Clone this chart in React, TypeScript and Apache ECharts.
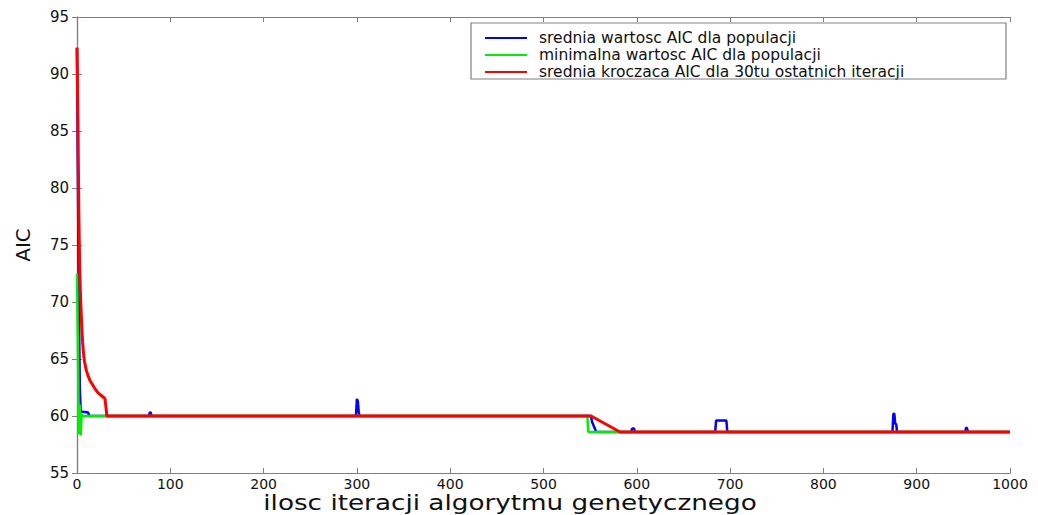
import React, { useEffect, useRef } from "react";
import * as echarts from "echarts";

// Tick labels
const xTicks = [0, 100, 200, 300, 400, 500, 600, 700, 800, 900, 1000];
const yTicks = [55, 60, 65, 70, 75, 80, 85, 90, 95];

// Series names
const seriesNames = [
  "srednia wartosc AIC dla populacji",
  "minimalna wartosc AIC dla populacji",
  "srednia kroczaca AIC dla 30tu ostatnich iteracji",
];

// Mean AIC of population (iteration, value)
const meanIter = [0, 1, 2, 3, 4, 12, 13, 77, 78, 79, 80, 299, 300, 301, 302, 303, 551, 552, 556, 557, 594, 595, 597, 598, 684, 685, 696, 697, 874, 875, 876, 877, 878, 879, 952, 953, 954, 955, 1000];
const meanVal = [92.3, 80, 70, 62.5, 60.4, 60.3, 60, 60, 60.3, 60.3, 60, 60, 61.5, 61.3, 60.3, 60, 60, 59.5, 58.7, 58.6, 58.6, 58.9, 58.9, 58.6, 58.6, 59.6, 59.6, 58.6, 58.6, 60.2, 60.2, 59.3, 59.3, 58.6, 58.6, 59.0, 58.9, 58.6, 58.6];

// Minimum AIC of population
const minIter = [0, 1, 2, 3, 4, 5, 6, 547, 548, 1000];
const minVal = [72.5, 66, 58.4, 61, 58.3, 60.2, 60, 60, 58.6, 58.6];

// Moving average of last 30 iterations
const avgIter = [0, 1, 2, 3, 4, 5, 6, 7, 8, 10, 12, 14, 17, 20, 23, 26, 29, 30, 31, 32, 551, 582, 1000];
const avgVal = [92.3, 86, 77.5, 72.5, 70, 68, 66.5, 65.5, 64.8, 64, 63.5, 63.1, 62.7, 62.3, 62, 61.8, 61.6, 61.5, 60.8, 60, 60, 58.6, 58.6];

const colors = ["#0000ff", "#00ee00", "#ff0000"];

const pairs = (xs: number[], ys: number[]) => xs.map((x, i) => [x, ys[i]]);

export default function App() {
  const ref = useRef<HTMLDivElement>(null);
  useEffect(() => {
    if (!ref.current) return;
    const chart = echarts.init(ref.current, undefined, { renderer: "svg" });
    const axisGray = "#808080";
    const font = "DejaVu Sans";
    const grid = { left: 77, right: 28, top: 17, bottom: 42 };
    const baseX = {
      type: "value" as const,
      min: xTicks[0],
      max: xTicks[xTicks.length - 1],
      interval: xTicks[1] - xTicks[0],
      splitLine: { show: false },
      axisLine: { show: true, lineStyle: { color: axisGray, width: 1.2 } },
      axisTick: { show: true, inside: true, length: 5, lineStyle: { color: axisGray } },
    };
    const baseY = {
      type: "value" as const,
      min: yTicks[0],
      max: yTicks[yTicks.length - 1],
      interval: yTicks[1] - yTicks[0],
      splitLine: { show: false },
      axisLine: { show: true, lineStyle: { color: axisGray, width: 1.2 } },
      axisTick: { show: true, inside: true, length: 5, lineStyle: { color: axisGray } },
    };
    chart.setOption({
      animation: false,
      backgroundColor: "#ffffff",
      grid,
      xAxis: [
        {
          ...baseX,
          position: "bottom",
          axisLabel: {
            color: "#111",
            fontFamily: font,
            fontSize: 14,
            margin: 4,
            formatter: (v: number) => String(v),
          },
        },
        { ...baseX, position: "top", axisLabel: { show: false } },
      ],
      yAxis: [
        {
          ...baseY,
          position: "left",
          name: "AIC",
          nameLocation: "middle",
          nameGap: 44,
          nameTextStyle: { color: "#111", fontFamily: font, fontSize: 20 },
          axisLabel: { color: "#111", fontFamily: font, fontSize: 15, margin: 8 },
        },
        { ...baseY, position: "right", axisLabel: { show: false } },
      ],
      legend: {
        orient: "vertical",
        left: 480,
        top: 25,
        itemWidth: 42,
        itemHeight: 2,
        itemGap: 1,
        icon: "rect",
        data: seriesNames,
        textStyle: {
          color: "#111",
          fontFamily: font,
          fontSize: 15.5,
          lineHeight: 16,
          padding: [0, 0, 0, 7],
        },
      },
      graphic: [
        {
          type: "rect",
          shape: { x: 471, y: 23, width: 535, height: 56 },
          style: { fill: "none", stroke: axisGray, lineWidth: 1.2 },
          z: 10,
        },
        {
          type: "text",
          x: 510,
          y: 503,
          scaleX: 1.25,
          style: {
            text: "ilosc iteracji algorytmu genetycznego",
            fontFamily: font,
            fontSize: 21,
            fill: "#111",
            align: "center",
            verticalAlign: "middle",
          },
        },
      ],
      series: [
        {
          name: seriesNames[0],
          type: "line",
          data: pairs(meanIter, meanVal),
          showSymbol: false,
          lineStyle: { color: colors[0], width: 2.5 },
          itemStyle: { color: colors[0] },
          z: 2,
        },
        {
          name: seriesNames[1],
          type: "line",
          data: pairs(minIter, minVal),
          showSymbol: false,
          lineStyle: { color: colors[1], width: 2.5 },
          itemStyle: { color: colors[1] },
          z: 3,
        },
        {
          name: seriesNames[2],
          type: "line",
          data: pairs(avgIter, avgVal),
          showSymbol: false,
          lineStyle: { color: colors[2], width: 3 },
          itemStyle: { color: colors[2] },
          z: 4,
        },
      ],
    });
    return () => chart.dispose();
  }, []);
  return (
    <div
      ref={ref}
      style={{ position: "fixed", left: 0, top: 0, width: 1038, height: 515 }}
    />
  );
}
